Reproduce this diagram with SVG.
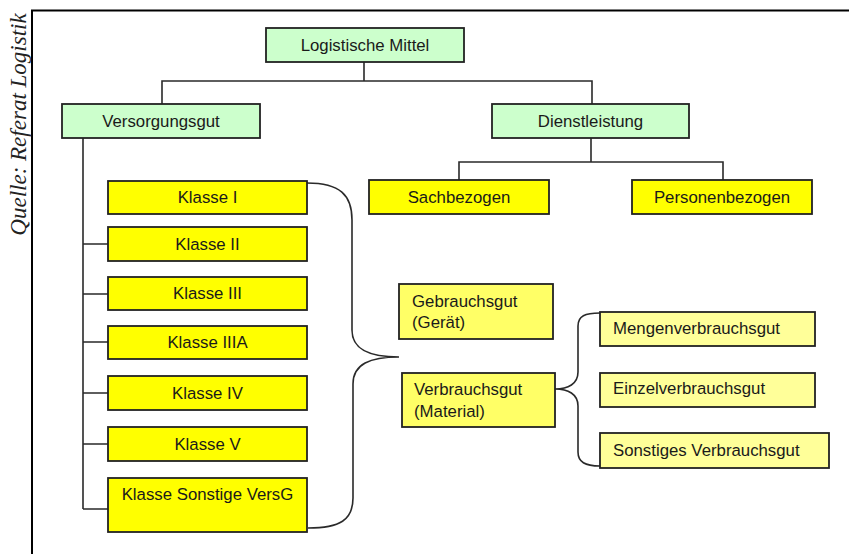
<svg xmlns="http://www.w3.org/2000/svg" width="849" height="554" viewBox="0 0 849 554">
<style>
.box{stroke:#222;stroke-width:1.8}
.g{fill:#ccffcc}
.y{fill:#ffff00}
.y2{fill:#ffff66}
.y3{fill:#ffff99}
.t{font-family:"Liberation Sans",Arial,sans-serif;font-size:16.8px;fill:#1a1a1a}
.c{text-anchor:middle}
.ln{fill:none;stroke:#2a2a2a;stroke-width:1.6}
</style>
<rect width="849" height="554" fill="#ffffff"/>
<g id="frame">
<path d="M32,554 V10.5 H849" fill="none" stroke="#000" stroke-width="2"/>
<text transform="translate(26,124.5) rotate(-90)" text-anchor="middle" font-family="Liberation Serif,serif" font-style="italic" font-size="23" fill="#222">Quelle: Referat Logistik</text>
</g>
<g id="connectors" class="ln">
<path d="M364,62 V81 M162,104 V81 H592 V104"/>
<path d="M591,138 V162 M459,180 V162 H723 V180"/>
<path d="M83,138 V509 M83,244 H108 M83,294 H108 M83,342 H108 M83,393 H108 M83,444 H108 M83,509 H108"/>
<path d="M307,183 C340,183 352,195 352,220 V330 C352,350 370,357 399,357 C370,357 353,364 353,384 V498 C353,520 340,528 308,528"/>
<path d="M555,389 C568,389 578,384 578,372 V326 C578,316 585,313 600,313 M555,389 C568,389 578,394 578,406 V452 C578,462 585,466 600,466"/>
</g>
<g id="n-logistische-mittel"><rect class="box g" x="266" y="28" width="198" height="34"/><text class="t c" x="365" y="51">Logistische Mittel</text></g>
<g id="n-versorgungsgut"><rect class="box g" x="62" y="104" width="198" height="34"/><text class="t c" x="161" y="127">Versorgungsgut</text></g>
<g id="n-dienstleistung"><rect class="box g" x="492" y="104" width="197" height="34"/><text class="t c" x="590.5" y="127">Dienstleistung</text></g>
<g id="n-sachbezogen"><rect class="box y" x="369" y="180" width="180" height="34"/><text class="t c" x="459" y="203">Sachbezogen</text></g>
<g id="n-personenbezogen"><rect class="box y" x="632" y="180" width="180" height="34"/><text class="t c" x="722" y="203">Personenbezogen</text></g>
<g id="n-klasse-1"><rect class="box y" x="108" y="181" width="199" height="33"/><text class="t c" x="207.5" y="203">Klasse I</text></g>
<g id="n-klasse-2"><rect class="box y" x="108" y="227" width="199" height="34"/><text class="t c" x="207.5" y="250">Klasse II</text></g>
<g id="n-klasse-3"><rect class="box y" x="108" y="277" width="199" height="33"/><text class="t c" x="207.5" y="299">Klasse III</text></g>
<g id="n-klasse-3a"><rect class="box y" x="108" y="326" width="199" height="33"/><text class="t c" x="207.5" y="348">Klasse IIIA</text></g>
<g id="n-klasse-4"><rect class="box y" x="108" y="376" width="199" height="34"/><text class="t c" x="207.5" y="399">Klasse IV</text></g>
<g id="n-klasse-5"><rect class="box y" x="108" y="427" width="199" height="34"/><text class="t c" x="207.5" y="450">Klasse V</text></g>
<g id="n-klasse-sonstige"><rect class="box y" x="108" y="478" width="199" height="54"/><text class="t c" x="207.5" y="500">Klasse Sonstige VersG</text></g>
<g id="n-gebrauchsgut"><rect class="box y2" x="399" y="284" width="154" height="55"/><text class="t" x="412" y="307">Gebrauchsgut</text><text class="t" x="412" y="328">(Gerät)</text></g>
<g id="n-verbrauchsgut"><rect class="box y2" x="402" y="373" width="153" height="54"/><text class="t" x="414" y="395">Verbrauchsgut</text><text class="t" x="414" y="416.5">(Material)</text></g>
<g id="n-mengenverbrauchsgut"><rect class="box y3" x="600" y="312" width="215" height="34"/><text class="t" x="613" y="333.5">Mengenverbrauchsgut</text></g>
<g id="n-einzelverbrauchsgut"><rect class="box y3" x="600" y="373" width="215" height="34"/><text class="t" x="613" y="394">Einzelverbrauchsgut</text></g>
<g id="n-sonstiges-verbrauchsgut"><rect class="box y3" x="600" y="433" width="229" height="35"/><text class="t" x="613" y="455.5">Sonstiges Verbrauchsgut</text></g>
</svg>
